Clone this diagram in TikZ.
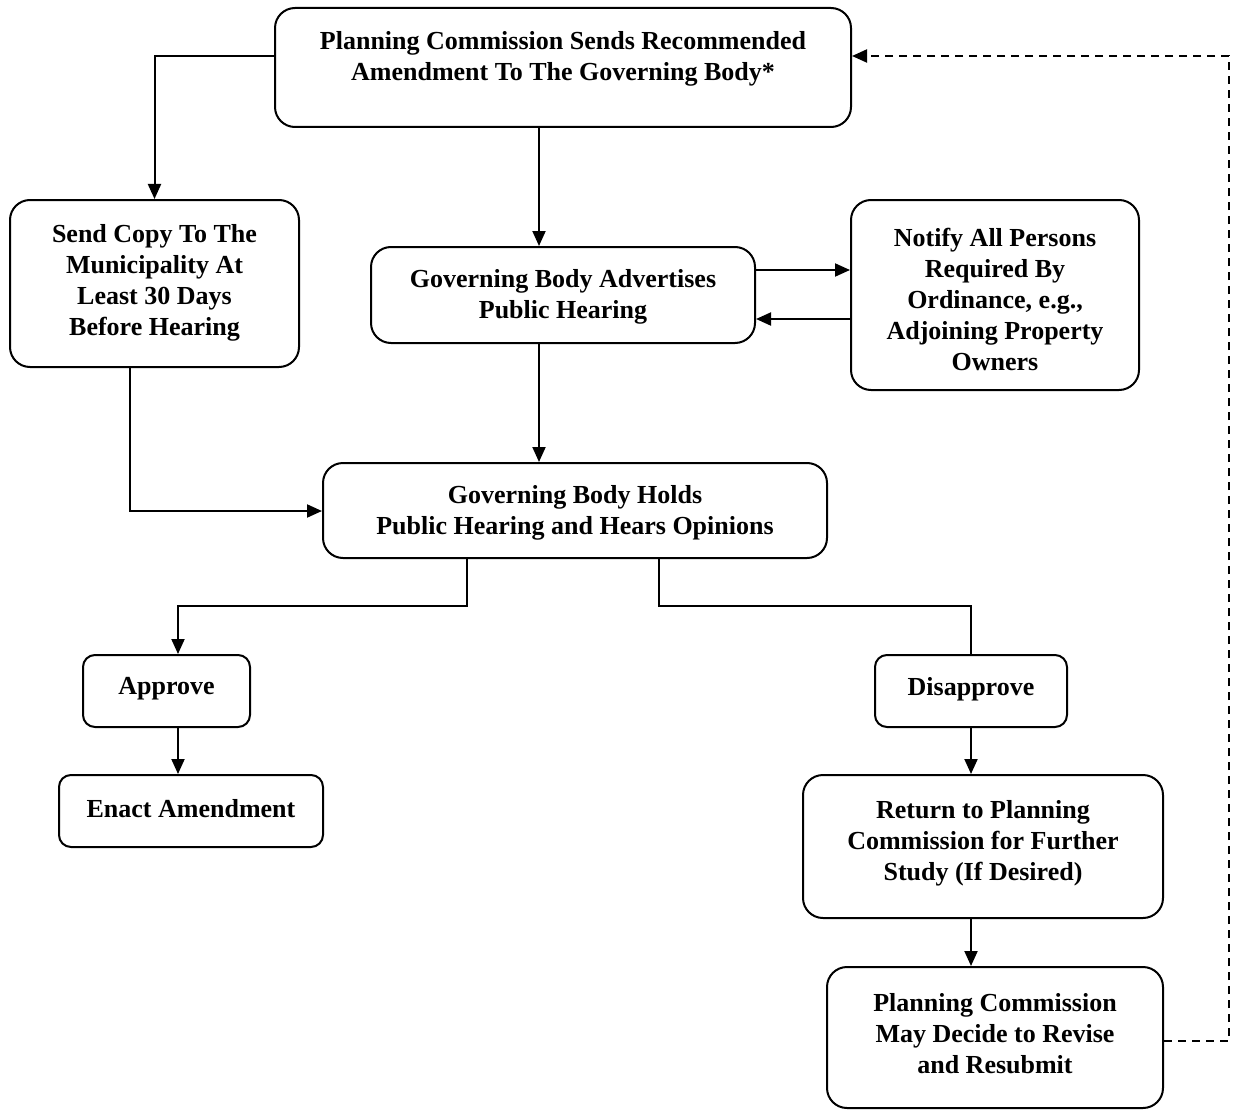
\documentclass[tikz,border=0pt]{standalone}
\usepackage{fontspec}
\setmainfont{Liberation Serif}
\usetikzlibrary{arrows.meta}
\begin{document}
\begin{tikzpicture}[x=1pt,y=-1pt,
  box/.style={draw,line width=2pt,rounded corners=20pt,inner sep=0pt},
  txt/.style={align=center,font=\fontsize{26}{31}\selectfont\bfseries,inner sep=0pt},
  arr/.style={line width=2pt,-{Triangle[length=15pt,width=13pt]}},
  ln/.style={line width=2pt},
  dsh/.style={line width=2pt,dash pattern=on 8pt off 6pt,-{Triangle[length=15pt,width=13pt]}}]
\useasboundingbox (0,0) rectangle (1241,1110);
% boxes
\node[box,minimum width=576pt,minimum height=119pt] (top) at (563,67.5) {};
\node[box,minimum width=289pt,minimum height=167pt] (send) at (154.5,283.5) {};
\node[box,minimum width=384pt,minimum height=96pt] (adv) at (563,295) {};
\node[box,minimum width=288pt,minimum height=190pt] (notify) at (995,295) {};
\node[box,minimum width=504pt,minimum height=95pt] (hold) at (575,510.5) {};
\node[box,minimum width=167pt,minimum height=72pt,rounded corners=12pt] (appr) at (166.5,691) {};
\node[box,minimum width=192pt,minimum height=72pt,rounded corners=12pt] (disa) at (971,691) {};
\node[box,minimum width=264pt,minimum height=72pt,rounded corners=12pt] (enact) at (191,811) {};
\node[box,minimum width=360pt,minimum height=143pt] (ret) at (983,846.5) {};
\node[box,minimum width=336pt,minimum height=141pt] (rev) at (995,1037.5) {};
% texts
\node[txt] (ttop) at (563,59) {Planning Commission Sends Recommended\\Amendment To The Governing Body*};
\node[txt] (tsend) at (154.5,283) {Send Copy To The\\Municipality At\\Least 30 Days\\Before Hearing};
\node[txt] (tadv) at (563,297) {Governing Body Advertises\\Public Hearing};
\node[txt] (tnot) at (995,299) {Notify All Persons\\Required By\\Ordinance, e.g.,\\Adjoining Property\\Owners};
\node[txt] (thold) at (575,513) {Governing Body Holds\\Public Hearing and Hears Opinions};
\node[txt] (tappr) at (166.5,689) {Approve};
\node[txt] (tdisa) at (971,689) {Disapprove};
\node[txt] (tenact) at (191,809) {Enact Amendment};
\node[txt] (tret) at (983,843) {Return to Planning\\Commission for Further\\Study (If Desired)};
\node[txt] (trev) at (995,1034) {Planning Commission\\May Decide to Revise\\and Resubmit};
% connectors
\coordinate (c1) at (154,56);
\draw[arr] (top.west |- c1) -| (send.north);
\draw[arr] (top.south -| 539,0) -- (adv.north -| 539,0);
\draw[arr] (adv.east |- 0,270) -- (notify.west |- 0,270);
\draw[arr] (notify.west |- 0,319) -- (adv.east |- 0,319);
\draw[arr] (adv.south -| 539,0) -- (hold.north -| 539,0);
\draw[arr] (send.south -| 130,0) |- (hold.west |- 0,511);
\coordinate (jl) at (467,606);
\coordinate (jr) at (659,606);
\draw[arr] (hold.south -| jl) -- (jl) -| (appr.north -| 178,0);
\draw[ln] (hold.south -| jr) -- (jr) -| (disa.north);
\draw[arr] (appr.south -| 178,0) -- (enact.north -| 178,0);
\draw[arr] (disa.south) -- (ret.north -| disa.south);
\draw[arr] (ret.south -| 971,0) -- (rev.north -| 971,0);
\coordinate (dr) at (1229,1041);
\draw[dsh] (rev.east |- dr) -- (dr) |- (top.east |- 0,56);
\end{tikzpicture}
\end{document}
